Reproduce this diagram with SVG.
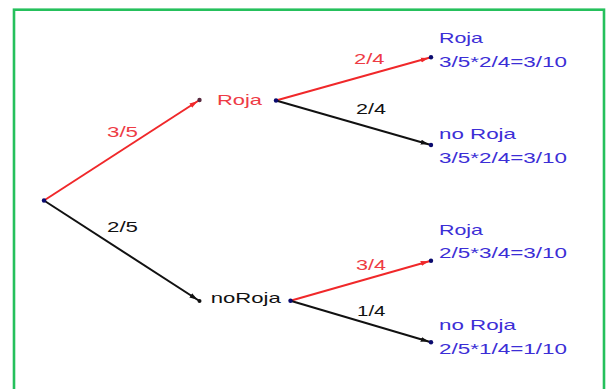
<svg xmlns="http://www.w3.org/2000/svg" width="609" height="389" viewBox="0 0 609 389">
<defs>
<style>
.t{font-family:"Liberation Sans",Arial,sans-serif;font-size:15px}
.r{fill:#ee3b45}
.k{fill:#111}
.b{fill:#3c2ed6}
.lr{stroke:#f0282a;stroke-width:2;fill:none;marker-end:url(#ar)}
.lk{stroke:#111;stroke-width:2;fill:none;marker-end:url(#ak)}
.d{fill:#0a0a6e}
</style>
<marker id="ar" viewBox="0 0 10 10" refX="13" refY="5" markerWidth="8" markerHeight="8" markerUnits="userSpaceOnUse" orient="auto"><path d="M0,1.8 L10,5 L0,8.2 Z" fill="#f0282a"/></marker>
<marker id="ak" viewBox="0 0 10 10" refX="13" refY="5" markerWidth="8" markerHeight="8" markerUnits="userSpaceOnUse" orient="auto"><path d="M0,1.8 L10,5 L0,8.2 Z" fill="#111"/></marker>
</defs>
<rect x="0" y="0" width="609" height="389" fill="#fff"/>
<rect x="14" y="9.7" width="590" height="400" fill="none" stroke="#25c05c" stroke-width="2.6"/>
<g id="connectors">
<path class="lr" d="M44,200.5 L199.5,100"/>
<path class="lk" d="M44,200.5 L199.5,301"/>
<path class="lr" d="M276,100.5 L431,57.3"/>
<path class="lk" d="M276,100.5 L431,145"/>
<path class="lr" d="M290.5,300.7 L431,260.7"/>
<path class="lk" d="M290.5,300.7 L431,342.3"/>
<text class="t r" x="107" y="136.7" textLength="31" lengthAdjust="spacingAndGlyphs">3/5</text>
<text class="t k" x="107" y="231.7" textLength="31" lengthAdjust="spacingAndGlyphs">2/5</text>
<text class="t r" x="354" y="64.3" textLength="30.5" lengthAdjust="spacingAndGlyphs">2/4</text>
<text class="t k" x="356" y="114" textLength="30" lengthAdjust="spacingAndGlyphs">2/4</text>
<text class="t r" x="356" y="270" textLength="30" lengthAdjust="spacingAndGlyphs">3/4</text>
<text class="t k" x="357" y="316" textLength="28.5" lengthAdjust="spacingAndGlyphs">1/4</text>
</g>
<g id="root"><circle class="d" cx="44" cy="200.5" r="2.2"/></g>
<g id="roja">
<circle cx="199.5" cy="100" r="2.2" fill="#5a2a40"/>
<text class="t r" x="217" y="104.6" textLength="45" lengthAdjust="spacingAndGlyphs">Roja</text>
<circle class="d" cx="276" cy="100.5" r="2.2"/>
</g>
<g id="noroja">
<circle cx="199.5" cy="301" r="2" fill="#111"/>
<text class="t k" x="210.7" y="303" textLength="70" lengthAdjust="spacingAndGlyphs">noRoja</text>
<circle class="d" cx="290.5" cy="300.7" r="2.2"/>
</g>
<g id="roja-roja">
<circle class="d" cx="431" cy="57.3" r="2.2"/>
<text class="t b" x="439" y="43.3" textLength="44" lengthAdjust="spacingAndGlyphs">Roja</text>
<text class="t b" x="439" y="66.5" textLength="128" lengthAdjust="spacingAndGlyphs">3/5*2/4=3/10</text>
</g>
<g id="roja-noroja">
<circle class="d" cx="431" cy="145" r="2.2"/>
<text class="t b" x="439" y="139" textLength="77" lengthAdjust="spacingAndGlyphs">no Roja</text>
<text class="t b" x="439" y="162.5" textLength="128" lengthAdjust="spacingAndGlyphs">3/5*2/4=3/10</text>
</g>
<g id="noroja-roja">
<circle class="d" cx="431" cy="260.7" r="2.2"/>
<text class="t b" x="439" y="235" textLength="44" lengthAdjust="spacingAndGlyphs">Roja</text>
<text class="t b" x="439" y="258.3" textLength="128" lengthAdjust="spacingAndGlyphs">2/5*3/4=3/10</text>
</g>
<g id="noroja-noroja">
<circle class="d" cx="431" cy="342.3" r="2.2"/>
<text class="t b" x="439" y="330" textLength="77" lengthAdjust="spacingAndGlyphs">no Roja</text>
<text class="t b" x="439" y="354" textLength="128" lengthAdjust="spacingAndGlyphs">2/5*1/4=1/10</text>
</g>
</svg>
